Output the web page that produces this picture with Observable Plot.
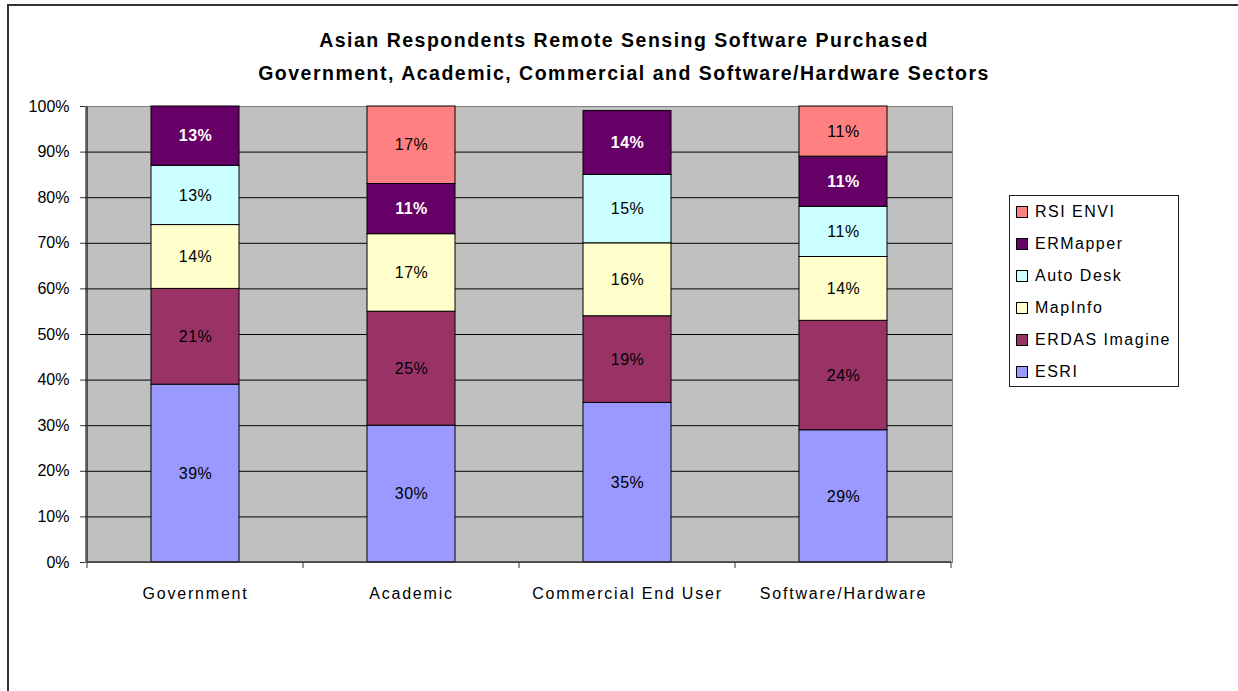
<!DOCTYPE html>
<html>
<head>
<meta charset="utf-8">
<script src="https://cdn.jsdelivr.net/npm/d3@7"></script>
<script src="https://cdn.jsdelivr.net/npm/@observablehq/plot@0.6"></script>
<style>
  html, body { margin: 0; padding: 0; background: #fff; width: 1238px; height: 691px; overflow: hidden; }
  #wrap { position: relative; width: 1238px; height: 691px; font-family: "Liberation Sans", Arial, sans-serif; }
  #frame { position: absolute; left: 7px; top: 4px; width: 1300px; height: 760px; border-top: 2px solid #333; border-left: 2px solid #333; }
  #title { position: absolute; left: 0; top: 24px; width: 1248px; text-align: center; font-weight: bold; font-size: 19.5px; letter-spacing: 1.5px; line-height: 33px; color: #000; }
  #chart { position: absolute; left: 0; top: 90px; }
  #legend { position: absolute; left: 1009px; top: 195px; width: 170px; height: 192px; border: 1px solid #222; background: #fff; box-sizing: border-box; }
  .row { height: 32px; display: flex; align-items: center; font-size: 16px; letter-spacing: 1.5px; color: #000; }
  .sw { width: 10px; height: 10px; border: 1px solid #000; margin-left: 6px; margin-right: 7px; flex: none; }
  [aria-label="x-axis tick label"] text, [aria-label="x-axis"] text { letter-spacing: 1.8px; }
  [aria-label="text"] text { letter-spacing: 0.5px; }
</style>
</head>
<body>
<div id="wrap">
  <div id="frame"></div>
  <div id="title">Asian Respondents Remote Sensing Software Purchased<br>Government, Academic, Commercial and Software/Hardware Sectors</div>
  <div id="chart"></div>
  <div id="legend"></div>
</div>
<script>
// ---- data ----
const sectors = ["Government", "Academic", "Commercial End User", "Software/Hardware"];
const software = ["ESRI", "ERDAS Imagine", "MapInfo", "Auto Desk", "ERMapper", "RSI ENVI"];
const colors = ["#9999FF", "#993366", "#FFFFCC", "#CCFFFF", "#660066", "#FF8080"];
const esri = [39, 30, 35, 29];
const erdas = [21, 25, 19, 24];
const mapinfo = [14, 17, 16, 14];
const autodesk = [13, 0, 15, 11];
const ermapper = [13, 11, 14, 11];
const rsienvi = [0, 17, 0, 11];
const yTicks = [0, 10, 20, 30, 40, 50, 60, 70, 80, 90, 100];

const series = [esri, erdas, mapinfo, autodesk, ermapper, rsienvi];
const rows = [];
sectors.forEach((s, i) => {
  software.forEach((sw, j) => {
    const v = series[j][i];
    if (v > 0) rows.push({sector: s, software: sw, value: v});
  });
});

const boundaryTicks = (index, scales, values, dimensions) => {
  const x = scales.x, y = scales.y;
  const bw = typeof x.bandwidth === "function" ? x.bandwidth() : (x.bandwidth || 0);
  const centers = sectors.map(s => x(s) + bw / 2);
  const step = centers[1] - centers[0];
  const bounds = [centers[0] - step / 2, ...centers.map(c => c + step / 2)];
  const y0 = y(0), y1 = y(100);
  const g = d3.create("svg:g");
  g.selectAll("line.t").data(bounds).join("line")
    .attr("x1", d => d).attr("x2", d => d)
    .attr("y1", y0).attr("y2", y0 + 6)
    .attr("stroke", "#333").attr("stroke-width", 1);
  g.append("line").attr("x1", bounds[0]).attr("x2", bounds[0]).attr("y1", y1).attr("y2", y0)
    .attr("stroke", "#333").attr("stroke-width", 1.5);
  g.append("line").attr("x1", bounds[0]).attr("x2", bounds[bounds.length - 1]).attr("y1", y0).attr("y2", y0)
    .attr("stroke", "#333").attr("stroke-width", 1.5);
  return g.node();
};

const plot = Plot.plot({
  width: 960,
  height: 530,
  marginLeft: 85,
  marginRight: 8,
  marginTop: 16,
  marginBottom: 58,
  style: {fontFamily: "'Liberation Sans', Arial, sans-serif", fontSize: "16px", color: "#000", background: "transparent"},
  x: {domain: sectors, paddingInner: 0.594, paddingOuter: 0.297, label: null},
  y: {domain: [0, 100], label: null},
  color: {domain: software, range: colors},
  marks: [
    Plot.frame({fill: "#C0C0C0", stroke: "#808080"}),
    Plot.ruleY(yTicks.slice(1, -1), {stroke: "#000", strokeWidth: 1}),
    Plot.barY(rows, {x: "sector", y: "value", fill: "software", stroke: "#000", strokeWidth: 1, order: software}),
    Plot.text(rows, Plot.stackY({x: "sector", y: "value", text: d => d.software !== "ERMapper" ? d.value + "%" : "", order: software, z: "software", fill: "#000", fontSize: 16})),
    Plot.text(rows, Plot.stackY({x: "sector", y: "value", text: d => d.software === "ERMapper" ? d.value + "%" : "", order: software, z: "software", fill: "#fff", fontWeight: "bold", fontSize: 16})),
    Plot.axisY({ticks: yTicks, tickFormat: d => d + "%", tickSize: 5, tickPadding: 11, stroke: "#333", fontSize: 16}),
    Plot.axisX({tickSize: 0, tickPadding: 25, fontSize: 16}),
    boundaryTicks
  ]
});
document.getElementById("chart").appendChild(plot);

// legend (top to bottom reversed)
const legend = d3.select("#legend");
software.slice().reverse().forEach(sw => {
  const r = legend.append("div").attr("class", "row");
  r.append("div").attr("class", "sw").style("background", colors[software.indexOf(sw)]);
  r.append("span").text(sw);
});
</script>
</body>
</html>
